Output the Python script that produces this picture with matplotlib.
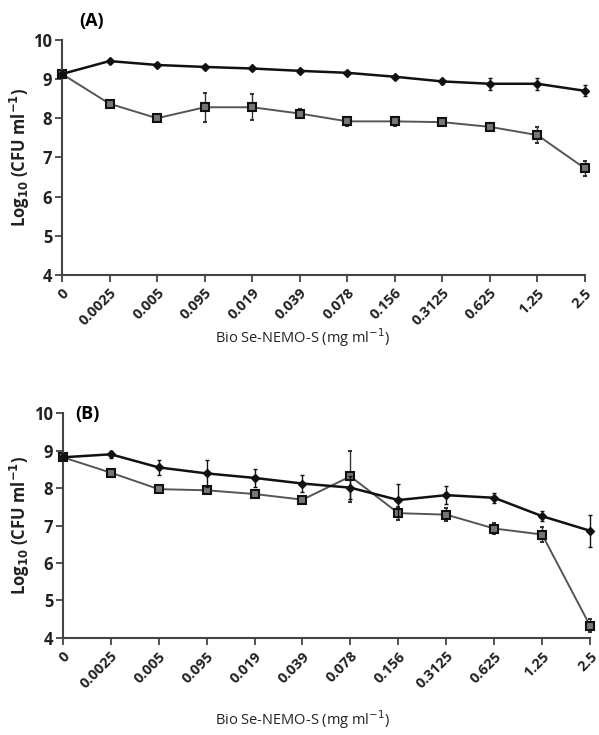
import matplotlib
matplotlib.use("Agg")
import matplotlib.pyplot as plt

conc = ['0', '0.0025', '0.005', '0.095', '0.019', '0.039', '0.078',
        '0.156', '0.3125', '0.625', '1.25', '2.5']

# panel A
a_diam = [9.13, 9.46, 9.36, 9.31, 9.27, 9.21, 9.16, 9.06, 8.94, 8.88, 8.88, 8.70]
a_diam_err = [0.03, 0.05, 0.04, 0.04, 0.05, 0.04, 0.04, 0.04, 0.06, 0.15, 0.15, 0.14]
a_sq = [9.13, 8.37, 8.00, 8.28, 8.28, 8.12, 7.92, 7.92, 7.90, 7.78, 7.57, 6.72]
a_sq_err = [0.03, 0.05, 0.04, 0.37, 0.33, 0.12, 0.12, 0.12, 0.06, 0.09, 0.2, 0.2]

# panel B
b_diam = [8.82, 8.90, 8.55, 8.39, 8.27, 8.12, 8.01, 7.68, 7.81, 7.74, 7.25, 6.86]
b_diam_err = [0.05, 0.1, 0.2, 0.35, 0.24, 0.22, 0.3, 0.44, 0.24, 0.14, 0.14, 0.42]
b_sq = [8.82, 8.41, 7.97, 7.94, 7.84, 7.69, 8.31, 7.33, 7.29, 6.92, 6.76, 4.33]
b_sq_err = [0.05, 0.05, 0.05, 0.08, 0.07, 0.07, 0.68, 0.17, 0.18, 0.15, 0.2, 0.18]

plt.rcParams['font.family'] = ['Open Sans', 'DejaVu Sans']

fig = plt.figure(figsize=(5.99, 7.35), dpi=100)
axA = fig.add_axes([0.1035, 0.626, 0.873, 0.3197])
axB = fig.add_axes([0.105, 0.132, 0.880, 0.306])


def draw(ax, diam, diam_err, sq, sq_err):
    x = list(range(len(conc)))
    ax.errorbar(x, sq, yerr=sq_err, color='#555555', lw=1.4, marker='s', ms=5.5,
                mfc='#777777', mec='#111111', mew=1.5, ecolor='#333333',
                elinewidth=1, capsize=1.5, zorder=2)
    ax.errorbar(x, diam, yerr=diam_err, color='#111111', lw=1.8, marker='D', ms=4,
                mfc='#111111', mec='#111111', ecolor='#111111',
                elinewidth=1, capsize=1.5, zorder=3)
    ax.set_xlim(0, len(conc) - 1)
    ax.set_ylim(4, 10)
    ax.set_yticks(range(4, 11))
    ax.set_xticks(x)
    ax.set_xticklabels(conc, rotation=45, ha='right', rotation_mode='anchor',
                       fontsize=10.5, fontweight='bold', color='#222222')
    for t in ax.get_yticklabels():
        t.set_fontsize(12)
        t.set_fontweight('bold')
        t.set_color('#222222')
    for s in ('top', 'right'):
        ax.spines[s].set_visible(False)
    for s in ('left', 'bottom'):
        ax.spines[s].set_linewidth(1.5)
        ax.spines[s].set_color('#444444')
    ax.tick_params(axis='both', direction='out', length=5, width=1.3,
                   color='#444444', pad=2)
    ax.tick_params(axis='x', pad=3)
    ax.set_ylabel(r'Log$_{\mathbf{10}}$ (CFU ml$^{\mathbf{-1}}$)', fontsize=12,
                  fontweight='bold', color='#222222')
    ax.yaxis.set_label_coords(-0.058, 0.5)
    for c in ax.get_children():
        try:
            c.set_clip_on(False)
        except Exception:
            pass


draw(axA, a_diam, a_diam_err, a_sq, a_sq_err)
draw(axB, b_diam, b_diam_err, b_sq, b_sq_err)

fig.text(0.133, 0.972, '(A)', fontsize=13, fontweight='bold', ha='left', va='center')
fig.text(0.125, 0.437, '(B)', fontsize=13, fontweight='bold', ha='left', va='center')

fig.text(303 / 599, 1 - 338 / 735, r'Bio Se-NEMO-S (mg ml$^{-1}$)', fontsize=10.5,
         ha='center', va='center', color='#222222')
fig.text(303 / 599, 1 - 720 / 735, r'Bio Se-NEMO-S (mg ml$^{-1}$)', fontsize=10.5,
         ha='center', va='center', color='#222222')

fig.savefig('out.png', dpi=100)
